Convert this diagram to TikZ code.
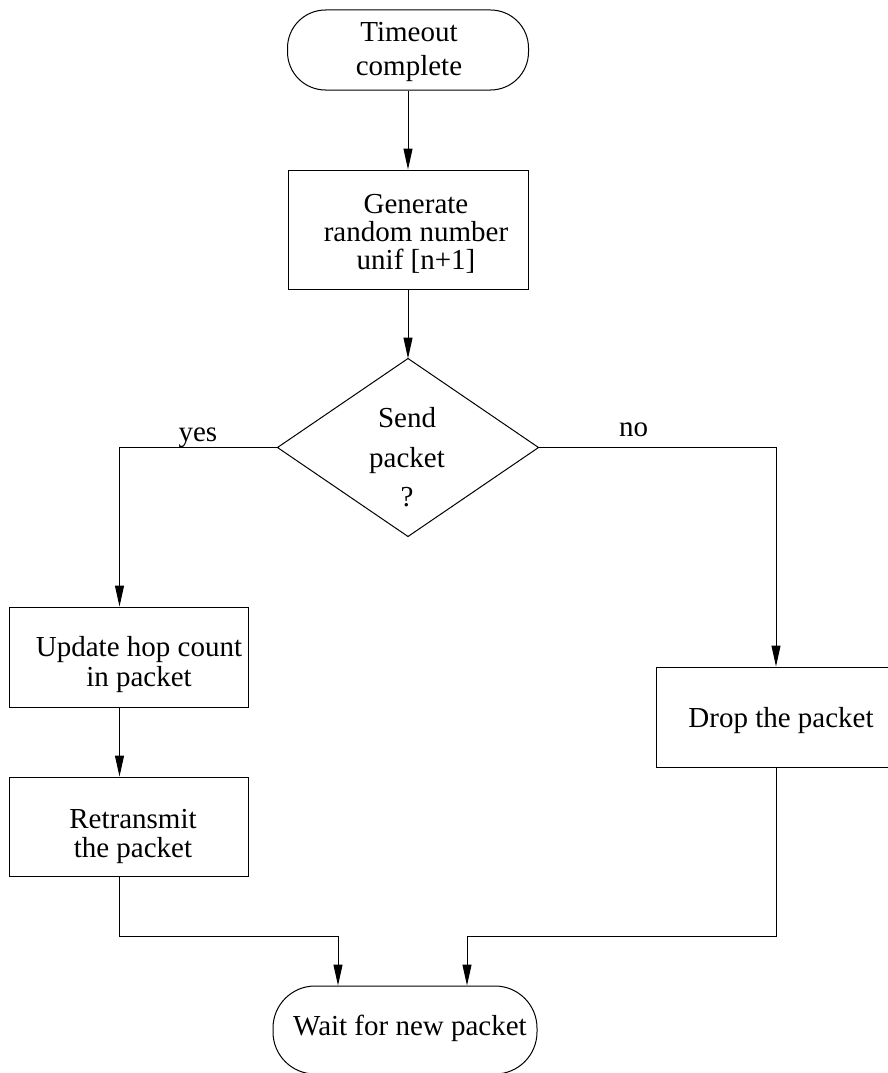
\documentclass[tikz,border=0pt]{standalone}
\usepackage{fontspec}
\setmainfont{Liberation Serif}
\usetikzlibrary{arrows.meta,calc}

\begin{document}
\begin{tikzpicture}[
  x=1pt, y=-1pt,
  every path/.style={line width=1pt},
  terminal/.style={draw, rectangle, inner sep=0pt},
  procbox/.style={draw, rectangle, inner sep=0pt},
  txt/.style={inner sep=0pt, align=center},
  flow/.style={-{Triangle[length=21pt,width=9pt]}},
]
\useasboundingbox (0,0) rectangle (887,1073);

% shapes
\node[terminal, rounded corners=38pt, minimum width=241pt, minimum height=80pt] (start) at (408,50) {};
\node[procbox, minimum width=240pt, minimum height=119pt] (gen) at (408,229.5) {};
\node[minimum width=260pt, minimum height=177pt, inner sep=0pt] (dec) at (408,447.5) {};
\draw (dec.north) -- (dec.east) -- (dec.south) -- (dec.west) -- cycle;
\node[procbox, minimum width=239pt, minimum height=100pt] (upd) at (128.5,657) {};
\node[procbox, minimum width=239pt, minimum height=99pt] (ret) at (128.5,826.5) {};
\node[procbox, minimum width=240pt, minimum height=100pt] (drop) at (776,717) {};
\node[terminal, rounded corners=42pt, minimum width=264pt, minimum height=88pt] (wait) at (405,1030) {};

% texts
\node[txt, font=\fontsize{29}{34}\selectfont] (startT) at ($(start.center)+(1,1.5)$) {Timeout\\complete};
\node[txt, font=\fontsize{29}{28}\selectfont] (genT) at ($(gen.center)+(8,4.5)$) {Generate\\random number\\unif [n+1]};
\node[txt, font=\fontsize{29}{39.5}\selectfont] (decT) at ($(dec.center)+(-1,10)$) {Send\\packet\\?};
\node[txt, font=\fontsize{29}{30}\selectfont] (updT) at ($(upd.center)+(10.5,7.4)$) {Update hop count\\in packet};
\node[txt, font=\fontsize{29}{29}\selectfont] (retT) at ($(ret.center)+(4.5,9.5)$) {Retransmit\\the packet};
\node[txt, font=\fontsize{29}{29}\selectfont] (dropT) at ($(drop.center)+(5,3.4)$) {Drop the packet};
\node[txt, font=\fontsize{29}{29}\selectfont] (waitT) at ($(wait.center)+(5,-1.5)$) {Wait for new packet};

% connectors
\draw[flow] (start.south) -- (gen.north);
\draw[flow] (gen.south) -- (dec.north);
\draw[flow] (dec.west) -| node[txt, font=\fontsize{29}{29}\selectfont, anchor=base, pos=0.252, yshift=6pt] (yes) {yes} ([xshift=-9pt]upd.north);
\draw[flow] (dec.east) -| node[txt, font=\fontsize{29}{29}\selectfont, anchor=base, pos=0.2, yshift=11pt] (no) {no} (drop.north);
\draw[flow] ([xshift=-9pt]upd.south) -- ([xshift=-9pt]ret.north);
\draw[flow] ([xshift=-9pt]ret.south) -- ++(0,60) -| ([xshift=-67pt]wait.north);
\draw[flow] (drop.south) -- ++(0,169) -| ([xshift=62pt]wait.north);
\end{tikzpicture}
\end{document}
